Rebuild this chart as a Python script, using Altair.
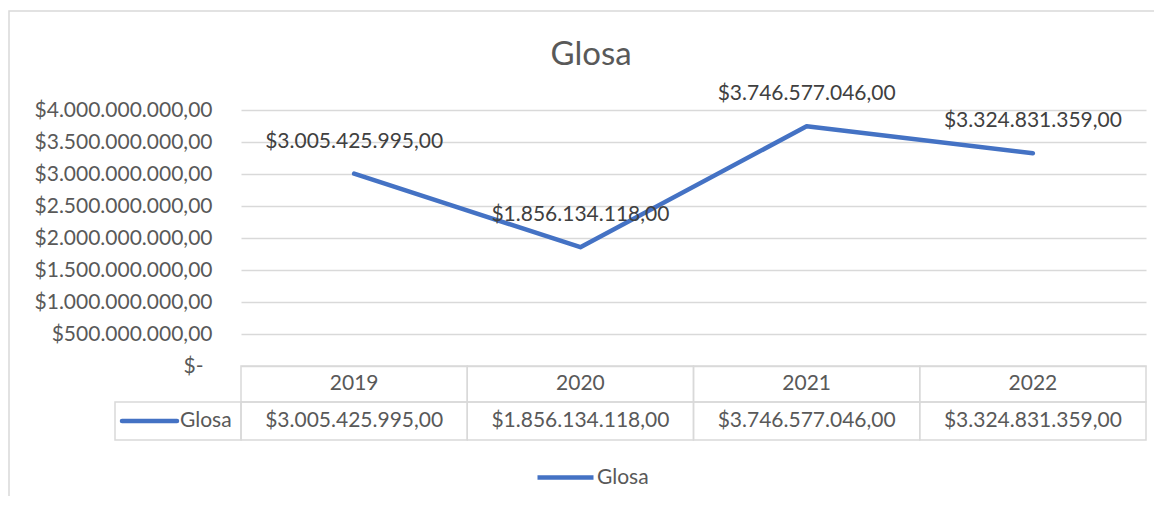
import altair as alt
import pandas as pd

years = ["2019", "2020", "2021", "2022"]
values = [3005425995.00, 1856134118.00, 3746577046.00, 3324831359.00]
series_name = "Glosa"
chart_title = "Glosa"
y_ticks = [0, 500000000, 1000000000, 1500000000, 2000000000, 2500000000,
           3000000000, 3500000000, 4000000000]

df = pd.DataFrame({"year": years, "value": values, "series": [series_name] * len(years)})
one = pd.DataFrame({"k": [0]})

FONT = "Lato"
BLUE = "#4472C4"
GRID = "#D9D9D9"
AXIS_TXT = "#595959"
LABEL_TXT = "#404040"
W, H = 905, 256
ROW1_TOP, ROW1_BOT = H, H + 36
ROW2_BOT = H + 74
ROW2_MID = (ROW1_BOT + ROW2_BOT) / 2

x_band = alt.X("year:O", scale=alt.Scale(type="band", paddingInner=0, paddingOuter=0, domain=years), axis=None)
x_mid = alt.X("year:O", scale=alt.Scale(type="band", paddingInner=0, paddingOuter=0, domain=years),
              axis=None, bandPosition=0.5)
y_enc = alt.Y("value:Q", scale=alt.Scale(domain=[0, 4000000000], nice=False),
              axis=alt.Axis(values=y_ticks, tickCount=9, format="$,.2f",
                            labelExpr="datum.value == 0 ? '$-' : datum.label",
                            labelFont=FONT, labelFontSize=21, labelColor=AXIS_TXT,
                            labelPadding={"condition": {"test": "datum.value == 0", "value": 38},
                                          "value": 29},
                            labelOverlap=False, ticks=False, domain=False,
                            grid=True, gridColor=GRID, gridWidth=1.3, title=None))

base = alt.Chart(df)

frame = alt.Chart(one).mark_rect(fill=None, stroke=GRID, strokeWidth=1.5).encode(
    x=alt.value(-232), x2=alt.value(1000), y=alt.value(-99), y2=alt.value(420))

title = alt.Chart(pd.DataFrame({"t": [chart_title]})).mark_text(
    font=FONT, fontSize=33, color=AXIS_TXT, baseline="middle", align="center").encode(
    x=alt.value(350), y=alt.value(-55), text="t:N")

line = base.mark_line(strokeWidth=4.5, strokeCap="round", strokeJoin="round").encode(
    x=x_mid, y=y_enc,
    color=alt.Color("series:N", scale=alt.Scale(range=[BLUE]),
                    legend=alt.Legend(orient="none", legendX=294, legendY=337, title=None,
                                      symbolType="stroke", symbolSize=3136, symbolStrokeWidth=4.5,
                                      labelFont=FONT, labelFontSize=21, labelColor=AXIS_TXT,
                                      labelOffset=1)))

labels = base.mark_text(font=FONT, fontSize=21, color=LABEL_TXT, dy=-32, baseline="middle").encode(
    x=x_mid, y=y_enc, text=alt.Text("value:Q", format="$,.2f"))

row1 = base.mark_rect(fill=None, stroke=GRID, strokeWidth=1.5).encode(
    x=x_band, y=alt.value(ROW1_TOP), y2=alt.value(ROW1_BOT))
row2 = base.mark_rect(fill=None, stroke=GRID, strokeWidth=1.5).encode(
    x=x_band, y=alt.value(ROW1_BOT), y2=alt.value(ROW2_BOT))
head = alt.Chart(one).mark_rect(fill=None, stroke=GRID, strokeWidth=1.5).encode(
    x=alt.value(-126), x2=alt.value(0), y=alt.value(ROW1_BOT), y2=alt.value(ROW2_BOT))
year_txt = base.mark_text(font=FONT, fontSize=21, color=AXIS_TXT, baseline="middle").encode(
    x=x_mid, y=alt.value((ROW1_TOP + ROW1_BOT) / 2), text="year:N")
val_txt = base.mark_text(font=FONT, fontSize=21, color=AXIS_TXT, baseline="middle").encode(
    x=x_mid, y=alt.value(ROW2_MID), text=alt.Text("value:Q", format="$,.2f"))
key_line = alt.Chart(one).mark_rule(color=BLUE, strokeWidth=4.5, strokeCap="round").encode(
    x=alt.value(-119), x2=alt.value(-64), y=alt.value(ROW2_MID))
key_txt = alt.Chart(pd.DataFrame({"s": [series_name]})).mark_text(
    font=FONT, fontSize=21, color=AXIS_TXT, align="left", baseline="middle").encode(
    x=alt.value(-61), y=alt.value(ROW2_MID), text="s:N")

chart = alt.layer(frame, title, row1, row2, head, line, labels, year_txt, val_txt, key_line, key_txt).properties(
    width=W, height=H,
    autosize=alt.AutoSizeParams(type="none"),
    padding={"left": 233, "top": 102, "right": 8, "bottom": 130},
).configure(
    locale=alt.Locale(number=alt.NumberLocale(decimal=",", thousands=".", grouping=[3],
                                              currency=["$", ""])),
    view=alt.ViewConfig(stroke=None),
)

chart.save("out.html", embed_options={"renderer": "svg", "actions": False})
